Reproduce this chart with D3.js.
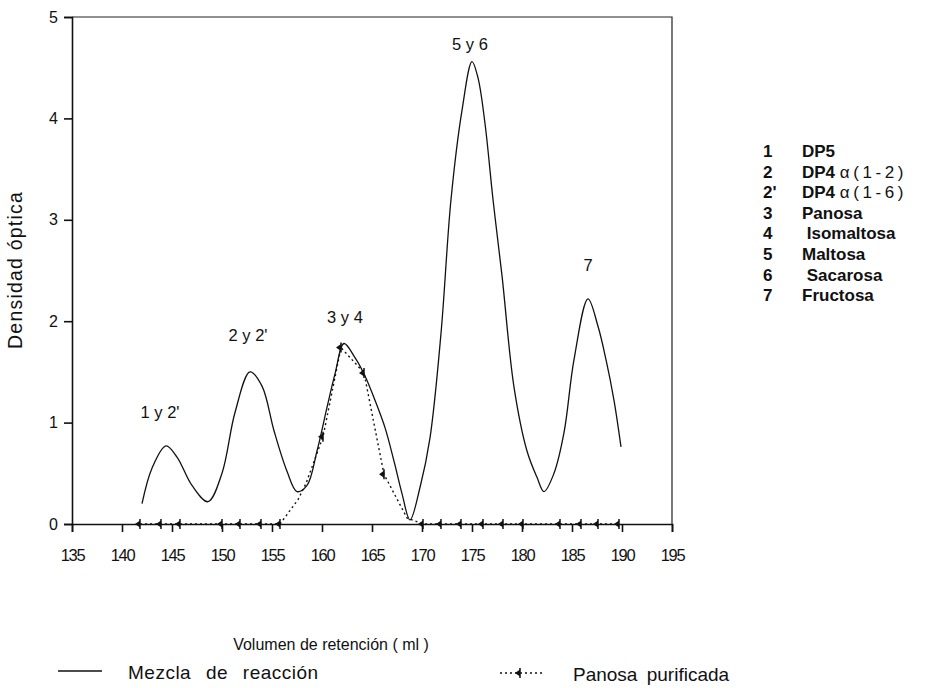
<!DOCTYPE html>
<html><head><meta charset="utf-8">
<script src="https://cdn.jsdelivr.net/npm/d3@7"></script>
<style>
body{margin:0;background:#fff;}
svg text{font-family:"Liberation Sans",Arial,sans-serif;fill:#111;}
</style></head>
<body>
<svg id="c" width="926" height="688"></svg>
<script>
// ---- data ----
const mezclaX = [142.0,143.0,144.4,145.5,147.0,148.6,150.0,151.3,152.8,154.0,155.2,156.5,157.5,158.5,159.5,160.5,161.3,162.2,163.3,164.3,165.3,166.3,167.2,168.0,168.8,169.8,170.8,171.9,172.9,174.0,175.0,175.6,176.3,177.1,178.0,179.2,180.5,181.5,182.2,183.2,184.2,185.2,186.6,187.6,188.4,189.2,189.9];
const mezclaY = [0.20,0.55,0.77,0.66,0.38,0.22,0.50,1.10,1.50,1.36,0.92,0.52,0.32,0.38,0.72,1.15,1.48,1.78,1.64,1.46,1.22,0.95,0.62,0.30,0.04,0.36,0.85,1.88,3.20,4.08,4.56,4.40,3.95,3.20,2.45,1.35,0.72,0.46,0.32,0.50,0.90,1.62,2.22,1.95,1.62,1.22,0.76];
const panosaX = [141.8,143.9,145.8,150.0,151.8,153.9,155.8,157.6,158.4,160.1,161.9,164.2,166.2,168.5,170.1,171.9,173.9,176.1,178.1,180.1,183.8,185.9,187.6,189.7];
const panosaY = [0,0,0,0,0,0,0,0.24,0.40,0.86,1.74,1.49,0.49,0.06,0,0,0,0,0,0,0,0,0,0];
const panosaMarked = [1,1,1,1,1,1,1,0,0,1,1,1,1,0,1,1,1,1,1,1,1,1,1,1];
const xTicks = [135,140,145,150,155,160,165,170,175,180,185,190,195];
const yTicks = [0,1,2,3,4,5];
const peakLabels = ["1 y 2'","2 y 2'","3 y 4","5 y 6","7"];
const peakX = [143.8,152.6,162.3,174.8,186.6];
const peakY = [1.045,1.80,1.98,4.67,2.50];
const legendNums = ["1","2","2'","3","4","5","6","7"];
const legendNames = ["DP5","DP4 ","DP4 ","Panosa"," Isomaltosa","Maltosa"," Sacarosa","Fructosa"];
const legendSub = ["","α(1-2)","α(1-6)","","","","",""];

// ---- chart ----
const svg = d3.select("#c");
const x = d3.scaleLinear().domain([135,195]).range([72,672]);
const y = d3.scaleLinear().domain([0,5]).range([524,17]);

// frame (top and right)
svg.append("path").attr("d",`M${x(135)},${y(5)}H${x(195)}V${y(0)}`)
  .attr("fill","none").attr("stroke","#222").attr("stroke-width",1.2);

const gx = svg.append("g").attr("transform",`translate(0,${y(0)})`)
  .call(d3.axisBottom(x).tickValues(xTicks).tickSize(8).tickPadding(17).tickFormat(d3.format("d")));
const gy = svg.append("g").attr("transform",`translate(${x(135)},0)`)
  .call(d3.axisLeft(y).tickValues(yTicks).tickSize(8).tickPadding(6).tickFormat(d3.format("d")));
[gx,gy].forEach(g=>{
  g.select(".domain").attr("stroke","#111").attr("stroke-width",1.6);
  g.selectAll(".tick line").attr("stroke","#111").attr("stroke-width",1.6);
  g.selectAll(".tick text").attr("fill","#111")
   .style("font-family",'"Liberation Sans",Arial,sans-serif');
});
gx.selectAll(".tick text").attr("font-size",16.5).attr("letter-spacing",-1.3);
gy.selectAll(".tick text").attr("font-size",16);

// axis titles
svg.append("text").attr("transform",`translate(22,${270}) rotate(-90)`)
  .attr("text-anchor","middle").attr("font-size",19.5).attr("letter-spacing",1.2).text("Densidad óptica");
svg.append("text").attr("x",331).attr("y",650).attr("text-anchor","middle")
  .attr("font-size",16).text("Volumen de retención ( ml )");

// solid line
const mezcla = mezclaX.map((v,i)=>[v,mezclaY[i]]);
svg.append("path").datum(mezcla)
  .attr("d",d3.line().x(d=>x(d[0])).y(d=>y(d[1])).curve(d3.curveCatmullRom.alpha(0.5)))
  .attr("fill","none").attr("stroke","#111").attr("stroke-width",1.3);

// dotted line
const panosa = panosaX.map((v,i)=>[v,panosaY[i],panosaMarked[i]]);
svg.append("path").datum(panosa)
  .attr("d",d3.line().x(d=>x(d[0])).y(d=>y(d[1])).curve(d3.curveLinear))
  .attr("fill","none").attr("stroke","#111").attr("stroke-width",1.4).attr("stroke-dasharray","2,3");

function marker(sel){
  sel.append("path").attr("d","M0,-5V5").attr("stroke","#111").attr("stroke-width",1.5);
  sel.append("path").attr("d","M-5,0L0,-3.5L0,3.5Z").attr("fill","#111");
}
svg.append("g").selectAll("g").data(panosa.filter(d=>d[2]===1)).join("g")
  .attr("transform",d=>`translate(${x(d[0])},${y(d[1])})`).call(marker);

// peak labels
svg.append("g").selectAll("text").data(peakLabels).join("text")
  .attr("x",(d,i)=>x(peakX[i])).attr("y",(d,i)=>y(peakY[i]))
  .attr("text-anchor","middle").attr("font-size",16.5).text(d=>d);

// right legend
const lg = svg.append("g");
legendNums.forEach((n,i)=>{
  const yy = 157 + i*20.6;
  lg.append("text").attr("x",763).attr("y",yy).attr("font-size",17).attr("font-weight","bold").text(n);
  const t = lg.append("text").attr("x",802).attr("y",yy).attr("font-size",17).attr("font-weight","bold")
    .attr("xml:space","preserve").style("white-space","pre");
  t.append("tspan").text(legendNames[i]);
  if (legendSub[i]) t.append("tspan").attr("font-weight","normal").attr("letter-spacing",3.6).text(legendSub[i]);
});

// bottom legend
svg.append("line").attr("x1",58).attr("x2",102).attr("y1",671).attr("y2",671)
  .attr("stroke","#111").attr("stroke-width",1.5);
svg.append("text").attr("x",128).attr("y",679).attr("font-size",19).attr("word-spacing",9).attr("letter-spacing",0.5)
  .text("Mezcla de reacción");
svg.append("line").attr("x1",500).attr("x2",545).attr("y1",673).attr("y2",673)
  .attr("stroke","#111").attr("stroke-width",1.4).attr("stroke-dasharray","2,3");
svg.append("g").attr("transform","translate(520,673)").call(marker);
svg.append("text").attr("x",573).attr("y",681).attr("font-size",19).attr("word-spacing",4)
  .text("Panosa purificada");
</script>
</body></html>
